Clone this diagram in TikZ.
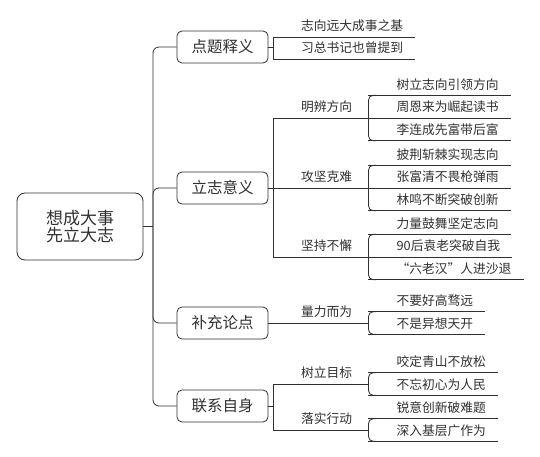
\documentclass[tikz,border=0pt]{standalone}
\usepackage{fontspec}
\setmainfont{Noto Sans CJK SC}
\usetikzlibrary{positioning,calc}
\definecolor{ink}{RGB}{48,48,48}
\newcommand{\qopen}{\makebox[1em][r]{“}}
\newcommand{\qclose}{\makebox[1em][l]{”}}

\tikzset{
  link/.style={draw=ink,line width=0.8pt},
  root/.style={draw=ink,line width=0.8pt,fill=white,rounded corners=8pt,minimum width=126pt,minimum height=67pt,
    align=center,text=ink,font=\fontsize{17}{17}\selectfont},
  topic/.style={draw=ink,line width=0.8pt,fill=white,rounded corners=5pt,minimum width=91pt,minimum height=32pt,
    text=ink,font=\fontsize{15.5}{16}\selectfont},
  uline/.style={anchor=south west,inner xsep=#1,inner ysep=4.5pt,text height=10pt,text depth=1.5pt,
    text=ink,font=\fontsize{12.75}{13}\selectfont,
    execute at begin node={\hspace*{\dimexpr28pt-#1\relax}},
    append after command={(\tikzlastnode.south west) edge[link] (\tikzlastnode.south east)}},
  leaf/.style={uline=12pt},
  sub/.style={uline=16pt},
}

\begin{document}
\begin{tikzpicture}[x=1pt,y=-1pt]
  \useasboundingbox (0,0) rectangle (540,457);

  % centre and main branches
  \node[root] (root) at (80,226.5) {想成大事\\先立大志};
  \coordinate (hub) at (153,226.5);
  \draw[link] (root.east) -- (hub);
  \foreach \t/\y [count=\i] in {点题释义/47, 立志意义/188, 补充论点/323, 联系自身/406}
  {
    \node[topic] (t\i) at (222.5,\y) {\t};
    \draw[link,rounded corners=6pt] (hub) |- (t\i.west);
  }

  % second level
  \node[leaf] (a1) at (273,37) {志向远大成事之基};
  \node[leaf] (a2) at (273,59) {习总书记也曾提到};
  \foreach \t/\y [count=\j] in {明辨方向/118, 攻坚克难/188, 坚持不懈/257, 量力而为/323, 树立目标/384, 落实行动/430}
    \node[sub] (s\j) at (273,\y) {\t};

  \draw[link] (t1.east) -- (t1.east -| a1.south west);
  \draw[link] (a1.south west) -- (a2.south west);
  \draw[link] (t2.east) -- (s2.south west);
  \draw[link] (s1.south west) -- (s3.south west);
  \draw[link] (t3.east) -- (s4.south west);
  \draw[link] (t4.east) -- (t4.east -| s5.south west);
  \draw[link] (s5.south west) -- (s6.south west);

  % leaves
  \foreach \s/\n/\items in {
      1/3/{树立志向引领方向,周恩来为崛起读书,李连成先富带后富},
      2/3/{披荆斩棘实现志向,张富清不畏枪弹雨,林鸣不断突破创新},
      3/3/{力量鼓舞坚定志向,90后袁老突破自我,\qopen 六老汉\qclose 人进沙退},
      4/2/{不要好高骛远,不是异想天开},
      5/2/{咬定青山不放松,不忘初心为人民},
      6/2/{锐意创新破难题,深入基层广作为}}
  {
    \foreach \t [count=\k] in \items
    {
      \pgfmathsetmacro{\dy}{(\k-(\n+1)/2)*22.75}
      \node[leaf] (l\s-\k) at ($(s\s.south east)+(0,\dy)$) {\t};
    }
    \draw[link,rounded corners=5pt] ([xshift=8pt]l\s-1.south west) -- (l\s-1.south west)
      -- (l\s-\n.south west) -- ([xshift=8pt]l\s-\n.south west);
  }
\end{tikzpicture}
\end{document}
